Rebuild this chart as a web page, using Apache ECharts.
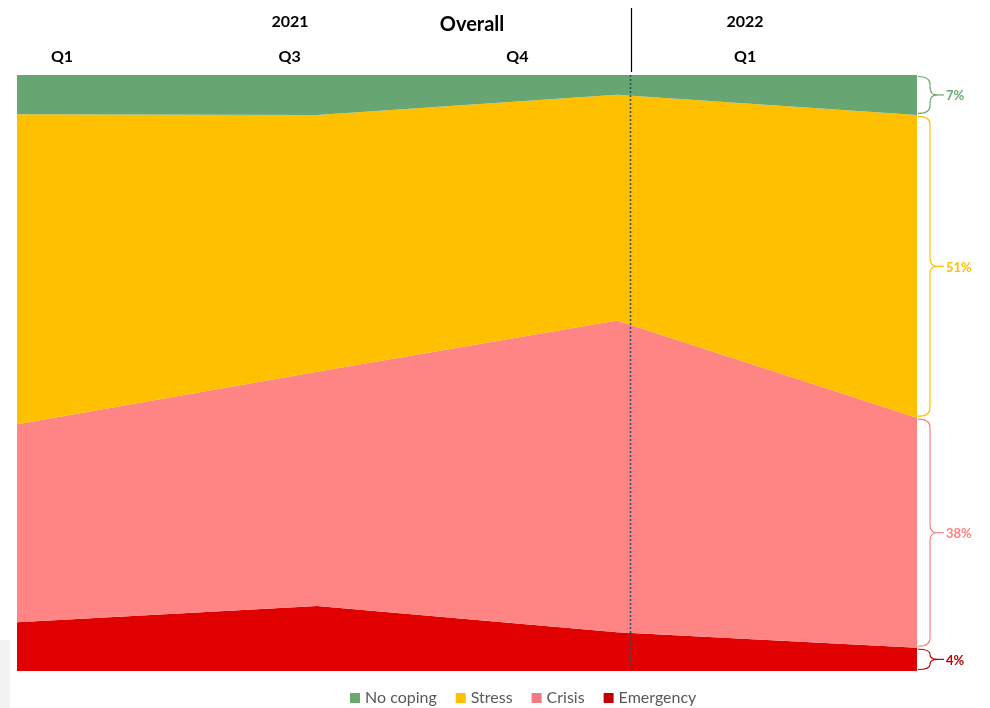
<!DOCTYPE html>
<html>
<head>
<meta charset="utf-8">
<script src="https://cdn.jsdelivr.net/npm/echarts@6/dist/echarts.min.js"></script>
<style>
  html, body { margin: 0; padding: 0; background: #fff; }
  #chart { width: 990px; height: 708px; }
</style>
</head>
<body>
<div id="chart"></div>
<script>
// periods (x) and shares in % per coping group
const categories = ["Q1 2021", "Q3 2021", "Q4 2021", "Q1 2022"];
const emergency = [8.2, 10.9, 6.5, 3.9];
const crisis = [33.2, 39.3, 52.3, 38.6];
const stress = [52.0, 43.1, 37.9, 50.8];
const noCoping = [6.6, 6.7, 3.3, 6.7];

const yearLabels = ["2021", "2022"];
const quarterLabels = ["Q1", "Q3", "Q4", "Q1"];
const endLabels = ["4%", "38%", "51%", "7%"]; // bottom to top

const FONT = "Lato, 'Open Sans', sans-serif";

const groups = [
  { name: "Emergency", data: emergency, area: "#e00000", icon: "#c00000", text: "#c00000" },
  { name: "Crisis", data: crisis, area: "#ff8585", icon: "#ee7d82", text: "#ff8080" },
  { name: "Stress", data: stress, area: "#ffc000", icon: "#ffc000", text: "#ffc000" },
  { name: "No coping", data: noCoping, area: "#67a673", icon: "#6aa870", text: "#6aa870" }
];

const chart = echarts.init(document.getElementById("chart"));

const options = {
  animation: false,
  grid: { left: 17, right: 73, top: 75, bottom: 37 },
  legend: {
    data: ["No coping", "Stress", "Crisis", "Emergency"],
    left: 350,
    top: 690,
    padding: 0,
    itemWidth: 10,
    itemHeight: 10,
    itemGap: 19,
    icon: "rect",
    textStyle: { fontFamily: FONT, fontSize: 16, color: "#595959" }
  },
  xAxis: {
    type: "category",
    data: categories,
    boundaryGap: false,
    show: false
  },
  yAxis: {
    type: "value",
    min: 0,
    max: 100,
    show: false
  },
  series: groups.map(g => ({
    name: g.name,
    type: "line",
    stack: "all",
    data: g.data,
    showSymbol: false,
    symbol: "none",
    lineStyle: { width: 0 },
    itemStyle: { color: g.icon },
    areaStyle: { color: g.area, opacity: 1 }
  }))
};

chart.setOption(options);

// header texts, separator and braces
const graphic = [];

graphic.push({
  type: "rect",
  shape: { x: 0, y: 640, width: 10, height: 68 },
  style: { fill: "#f2f2f2" },
  z: 0
});

graphic.push({
  type: "text",
  x: 472, y: 25,
  style: { text: "Overall", font: "bold 20px " + FONT, fill: "#000", align: "center", verticalAlign: "middle" }
});

[290, 745].forEach((x, i) => {
  graphic.push({
    type: "text",
    x: x, y: 22,
    style: { text: yearLabels[i], font: "bold 16px " + FONT, fill: "#000", align: "center", verticalAlign: "middle" }
  });
});

quarterLabels.forEach((q, i) => {
  graphic.push({
    type: "text",
    x: 62 + i * 227.7, y: 57,
    style: { text: q, font: "bold 16px " + FONT, fill: "#000", align: "center", verticalAlign: "middle" }
  });
});

graphic.push({
  type: "line",
  shape: { x1: 631.5, y1: 8, x2: 631.5, y2: 72 },
  style: { stroke: "#000", lineWidth: 1.2 }
});
graphic.push({
  type: "line",
  shape: { x1: 630.5, y1: 75, x2: 630.5, y2: 668 },
  style: { stroke: "#2e4a66", lineWidth: 1.5, lineDash: [2, 2] },
  z: 10
});

// braces along the last period
function curve(x1, y1, cx, cy, x2, y2, color) {
  return {
    type: "bezierCurve",
    shape: { x1: x1, y1: y1, cpx1: cx, cpy1: cy, x2: x2, y2: y2 },
    style: { fill: null, stroke: color, lineWidth: 1.2 }
  };
}
function seg(x1, y1, x2, y2, color) {
  return {
    type: "line",
    shape: { x1: x1, y1: y1, x2: x2, y2: y2 },
    style: { stroke: color, lineWidth: 1.2 }
  };
}

const last = categories.length - 1;
let cum = 0;
groups.forEach((g, i) => {
  const bottom = chart.convertToPixel({ gridIndex: 0 }, [last, cum]);
  cum += g.data[last];
  const top = chart.convertToPixel({ gridIndex: 0 }, [last, cum]);
  const x = bottom[0] + 1;
  const y1 = top[1] + 1.5;
  const y2 = bottom[1] - 1.5;
  const ym = (y1 + y2) / 2;
  const bx = x + 12;
  const tx = bx + 7;
  const r = Math.min(8, (y2 - y1) / 4);
  const c = g.text;
  graphic.push(
    curve(x, y1, bx, y1, bx, y1 + r, c),
    seg(bx, y1 + r, bx, ym - r, c),
    curve(bx, ym - r, bx, ym, tx, ym, c),
    curve(tx, ym, bx, ym, bx, ym + r, c),
    seg(bx, ym + r, bx, y2 - r, c),
    curve(bx, y2 - r, bx, y2, x, y2, c),
    seg(tx, ym, tx + 7, ym, c)
  );
  graphic.push({
    type: "text",
    x: tx + 9, y: ym + 1,
    style: { text: endLabels[i], font: "bold 13px " + FONT, fill: c, verticalAlign: "middle" }
  });
});

chart.setOption({ graphic: graphic });
</script>
</body>
</html>
